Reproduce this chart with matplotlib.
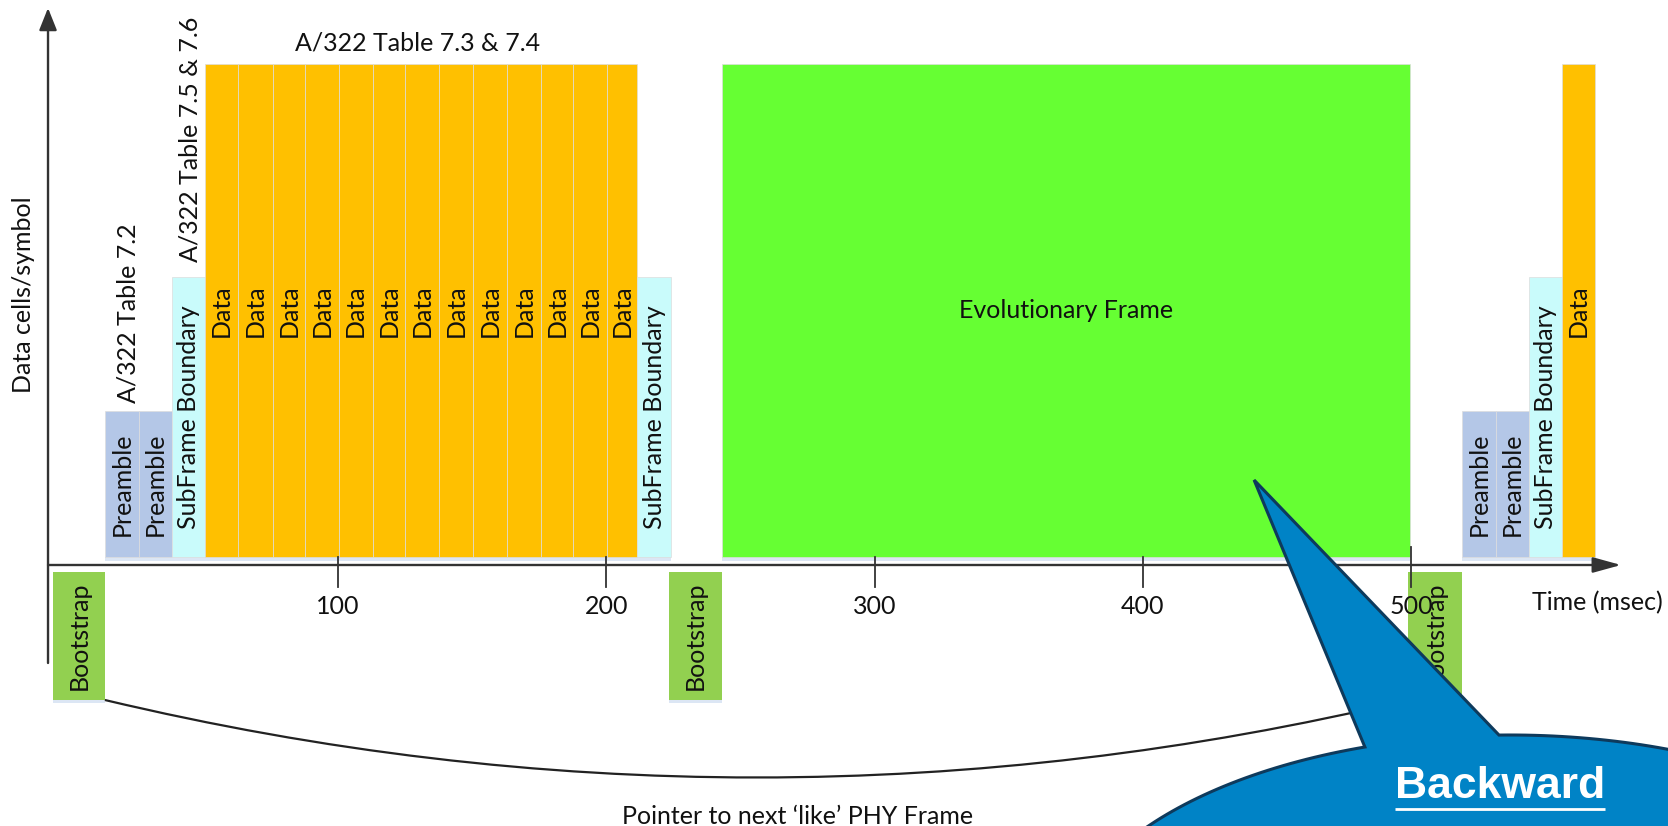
import numpy as np
import matplotlib.pyplot as plt
from matplotlib.patches import Rectangle, Polygon, PathPatch
from matplotlib.path import Path

# =============================================================================
# Values: time in msec, heights in symbol-height units
# =============================================================================
block_labels = (['Preamble', 'Preamble', 'SubFrame Boundary'] + ['Data'] * 13 +
                ['SubFrame Boundary', 'Evolutionary Frame',
                 'Preamble', 'Preamble', 'SubFrame Boundary', 'Data'])
block_start = [13.1, 25.8, 38.1,
               50.4, 62.9, 75.6, 87.7, 100.2, 112.9, 125.0, 137.6, 150.3,
               163.0, 175.7, 187.6, 200.3,
               211.6, 243.1,
               519.0, 531.7, 544.0, 556.3]
block_width = [12.7, 12.3, 12.3,
               12.5, 12.7, 12.1, 12.5, 12.7, 12.1, 12.6, 12.7, 12.7,
               12.7, 11.9, 12.7, 11.3,
               12.5, 256.5,
               12.7, 12.3, 12.3, 12.3]
kind_height = {'Preamble': 146, 'SubFrame Boundary': 280,
               'Data': 493, 'Evolutionary Frame': 493}

boot_start = [-6.2, 223.4, 498.9]
boot_width = [19.3, 19.7, 20.1]

tick_values = [100, 200, 300, 400, 500]

# --- Styles ---
kind_color = {'Preamble': '#B4C7E7', 'SubFrame Boundary': '#C9FBFB',
              'Data': '#FFC000', 'Evolutionary Frame': '#66FF33'}
boot_color = '#92D050'
shadow = '#DCE6F4'
axis_color = '#333333'
FONT = ['Lato', 'DejaVu Sans']
FS = 18

plt.rcParams['font.family'] = FONT

fig = plt.figure(figsize=(16.68, 8.26), dpi=100)
ax = fig.add_axes([0, 0, 1, 1])
ax.set_xlim(-26.0, 595.8)
ax.set_ylim(-261, 565)
ax.axis('off')

base = 8            # blocks sit just above the time axis
boot_top, boot_bot = -7, -135

# =============================================================================
# Blocks above the axis
# =============================================================================
for lab, x0, w in zip(block_labels, block_start, block_width):
    h = kind_height[lab]
    ax.add_patch(Rectangle((x0, base - 4), w, 4, facecolor=shadow,
                           edgecolor='none', zorder=1))
    ax.add_patch(Rectangle((x0, base), w, h, facecolor=kind_color[lab],
                           edgecolor='#DDDDDD', lw=0.5, zorder=2))
    rot = 0 if lab == 'Evolutionary Frame' else 90
    ax.text(x0 + w / 2, base + h / 2, lab, rotation=rot, ha='center',
            va='center', fontsize=FS, color='#111111', zorder=3)

# Bootstrap blocks below the axis
for x0, w in zip(boot_start, boot_width):
    ax.add_patch(Rectangle((x0, boot_bot - 3), w, 3, facecolor=shadow,
                           edgecolor='none', zorder=1))
    ax.add_patch(Rectangle((x0, boot_bot), w, boot_top - boot_bot,
                           facecolor=boot_color, edgecolor='none', zorder=2))
    ax.text(x0 + w / 2, (boot_top + boot_bot) / 2, 'Bootstrap', rotation=90,
            ha='center', va='center', fontsize=FS, color='#111111', zorder=3)

# =============================================================================
# Axes with arrow heads and ticks
# =============================================================================
x_axis_left, x_axis_right = -8.1, 578.3
ax.annotate('', xy=(x_axis_left, 557), xytext=(x_axis_left, -98),
            arrowprops=dict(arrowstyle='-|>,head_length=0.4,head_width=0.16',
                            color=axis_color, lw=1.7, mutation_scale=34,
                            shrinkA=0, shrinkB=0), zorder=4)
ax.annotate('', xy=(x_axis_right, 0), xytext=(x_axis_left, 0),
            arrowprops=dict(arrowstyle='-|>,head_length=0.4,head_width=0.11',
                            color=axis_color, lw=1.7, mutation_scale=43,
                            shrinkA=0, shrinkB=0), zorder=4)
for t in tick_values:
    top = 18 if t == 500 else 8
    ax.plot([t, t], [top, -22], color=axis_color, lw=1.3, zorder=4)
    ax.text(t, -41, str(t), ha='center', va='center', fontsize=FS,
            color='#111111', zorder=5)

ax.text(545.1, -38, 'Time (msec)', ha='left', va='center', fontsize=FS,
        color='#111111')
ax.text(-17.1, 270, 'Data cells/symbol', rotation=90, ha='center',
        va='center', fontsize=FS, color='#111111')

# Table references
ax.text(129.8, 522, 'A/322 Table 7.3 & 7.4', ha='center', va='center',
        fontsize=FS, color='#111111')
ax.text(44.8, 426, 'A/322 Table 7.5 & 7.6', rotation=90, ha='center',
        va='center', fontsize=FS, color='#111111')
ax.text(21.7, 252, 'A/322 Table 7.2', rotation=90, ha='center',
        va='center', fontsize=FS, color='#111111')

# =============================================================================
# Pointer curve from the first bootstrap to the next one
# =============================================================================
curve = Path([(13.1, boot_bot), (256.2, -290), (498.9, boot_bot)],
             [Path.MOVETO, Path.CURVE3, Path.CURVE3])
ax.add_patch(PathPatch(curve, facecolor='none', edgecolor='#222222',
                       lw=1.6, zorder=3))
ax.text(271.5, -251, 'Pointer to next \u2018like\u2019 PHY Frame',
        ha='center', va='center', fontsize=FS, color='#111111')

# =============================================================================
# "Backward" speech bubble (ellipse with a wedge pointer)
# =============================================================================
cx, cy, rx, ry = 536.9, -395, 167.8, 225
tip = (441.5, 85)
a_right = np.degrees(np.arccos((532.8 - cx) / rx))
a_left = np.degrees(np.arccos((482.8 - cx) / rx))
theta = np.radians(np.linspace(a_right, a_left - 360, 300))
pts = np.column_stack([cx + rx * np.cos(theta), cy + ry * np.sin(theta)])
pts = np.vstack([tip, pts])
ax.add_patch(Polygon(pts, closed=True, facecolor='#0083C6',
                     edgecolor='#0E3A5C', lw=2.2, zorder=6, clip_on=True))
bw = ax.text(533.2, -221, 'Backward', ha='center', va='center',
             fontsize=32, fontweight='bold', color='white',
             family=['Liberation Sans', 'DejaVu Sans'], zorder=7)

# underline the bubble text using its rendered extent
fig.canvas.draw()
bb = bw.get_window_extent().transformed(ax.transData.inverted())
ax.plot([bb.x0, bb.x1], [bb.y0 - 2, bb.y0 - 2], color='white', lw=2,
        zorder=7, solid_capstyle='butt')

fig.savefig('out.png', dpi=100)
